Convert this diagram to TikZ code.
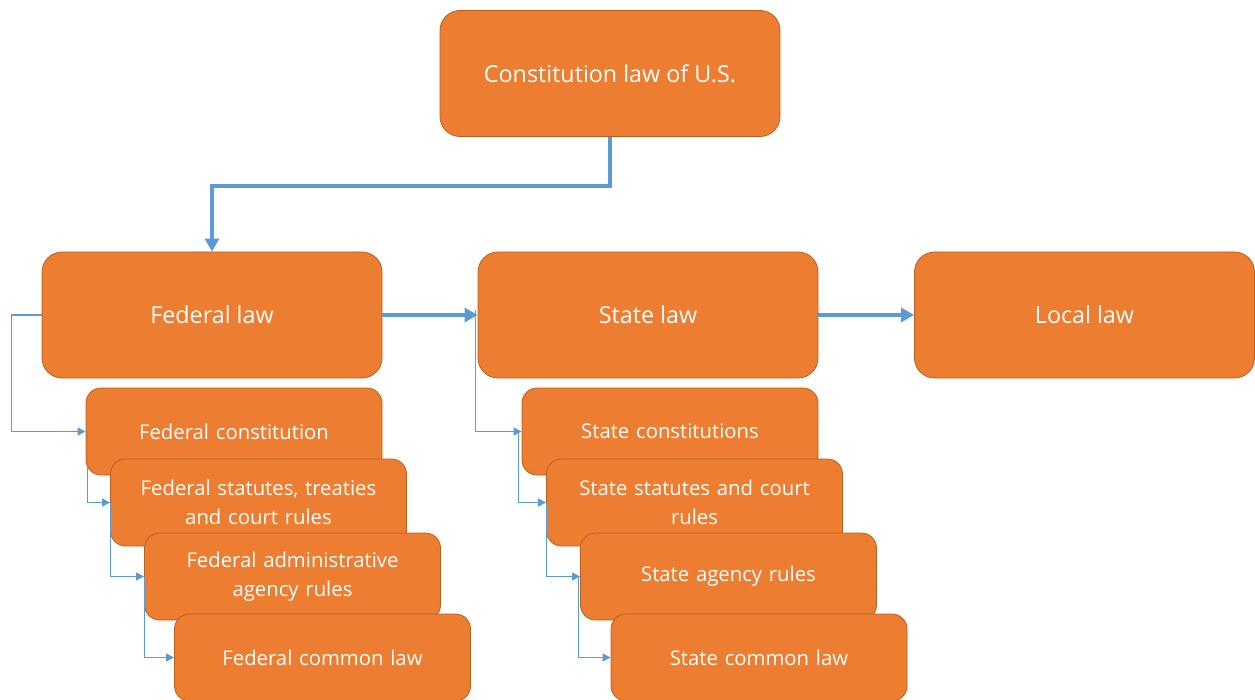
\documentclass[tikz,border=0pt]{standalone}
\usepackage{fontspec}
\setmainfont{Open Sans}
\usetikzlibrary{arrows.meta,calc}
\definecolor{boxfill}{HTML}{ED7D31}
\definecolor{boxedge}{HTML}{B8611F}
\definecolor{linkblue}{HTML}{5B9BD5}
\begin{document}
\begin{tikzpicture}[x=1pt,y=-1pt,
  bigbox/.style={draw=boxedge,line width=0.8pt,fill=boxfill,rounded corners=20pt,
    minimum width=340pt,minimum height=126pt,text=white,font=\fontsize{23.3}{28}\selectfont,inner sep=0pt},
  subbox/.style={draw=boxedge,line width=0.8pt,fill=boxfill,rounded corners=15pt,
    minimum width=296pt,minimum height=87pt,text=white,font=\fontsize{20.3}{29}\selectfont,
    align=center,text width=280pt,inner sep=0pt},
  thick link/.style={draw=linkblue,line width=3.5pt,-{Triangle[length=13pt,width=14pt]}},
  thin link/.style={draw=linkblue,line width=1.2pt,-{Triangle[length=8pt,width=8pt]}}]
\useasboundingbox (0,0) rectangle (1255,700);
% main boxes
\node[bigbox] (top) at (610,73.5) {Constitution law of U.S.};
\node[bigbox] (fed) at (212,315) {Federal law};
\node[bigbox] (st) at (648,315) {State law};
\node[bigbox] (loc) at (1084.5,315) {Local law};
% federal sub boxes
\node[subbox] (f1) at (234,431.5) {Federal constitution};
\node[subbox] (f2) at (258.5,502.5) {Federal statutes, treaties\\and court rules};
\node[subbox] (f3) at (292.5,576.5) {Federal administrative\\agency rules};
\node[subbox] (f4) at (322.5,657.5) {Federal common law};
% state sub boxes
\node[subbox] (s1) at (670,431.5) {State constitutions};
\node[subbox] (s2) at (694.5,502.5) {State statutes and court\\rules};
\node[subbox] (s3) at (728.5,576.5) {State agency rules};
\node[subbox] (s4) at (759,657.5) {State common law};
% thick connectors
\draw[thick link] (top.south) -- ++(0,49) -| (fed.north);
\draw[thick link] (fed.east) -- (st.west);
\draw[thick link] (st.east) -- (loc.west);
% federal thin connectors
\draw[thin link] (fed.west) -- ++(-30,0) |- (f1.west);
\draw[thin link] ($(f1.west)+(2,0)$) |- (f2.west);
\draw[thin link] ($(f2.west)+(0,0)$) |- (f3.west);
\draw[thin link] ($(f3.west)+(0,0)$) |- (f4.west);
% state thin connectors
\draw[thin link] ($(st.west)+(-2,-5)$) |- (s1.west);
\draw[thin link] ($(s1.west)+(-3,0)$) |- (s2.west);
\draw[thin link] ($(s2.west)+(0,0)$) |- (s3.west);
\draw[thin link] ($(s3.west)+(-2,0)$) |- (s4.west);
\end{tikzpicture}
\end{document}
